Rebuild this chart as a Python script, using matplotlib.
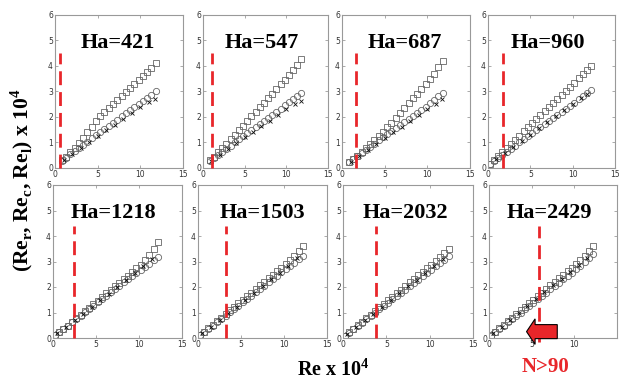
import matplotlib
matplotlib.use("Agg")
import matplotlib.pyplot as plt
import matplotlib.patches as mpatches

plt.rcParams["mathtext.fontset"] = "custom"
plt.rcParams["mathtext.rm"] = "Liberation Serif"
plt.rcParams["mathtext.bf"] = "Liberation Serif:bold"

# Hartmann numbers of the eight runs
ha_labels = ["Ha=421", "Ha=547", "Ha=687", "Ha=960",
             "Ha=1218", "Ha=1503", "Ha=2032", "Ha=2429"]

# Re where the red dashed line is drawn (x 10^4)
re_crit = [0.6, 1.1, 1.6, 1.8, 2.4, 3.3, 3.8, 5.9]
crit_top = [4.5, 4.5, 4.5, 4.5, 4.4, 4.4, 4.4, 4.4]

# Re axis (x 10^4)
re_top = [0.8, 1.3, 1.8, 2.3, 2.8, 3.3, 3.8, 4.3, 4.8, 5.3, 5.8, 6.3,
          6.8, 7.3, 7.8, 8.3, 8.8, 9.3, 9.8, 10.3, 10.8, 11.3, 11.8]
re_low = [0.2, 0.7, 1.2, 1.7, 2.2, 2.7, 3.2, 3.7, 4.2, 4.7, 5.2, 5.7, 6.2,
          6.7, 7.2, 7.7, 8.2, 8.7, 9.2, 9.7, 10.2, 10.7, 11.2, 11.7, 12.2]
re_x_top = [1.0, 2.0, 3.0, 4.0, 5.0, 6.0, 7.0, 8.0, 9.0, 10.0, 11.0, 11.7]
re_x_low = [0.5, 1.5, 2.5, 3.5, 4.5, 5.5, 6.5, 7.5, 8.5, 9.5, 10.5, 11.5]

# Re_r (squares)
re_r_421 = [0.30, 0.45, 0.62, 0.80, 0.98, 1.18, 1.40, 1.62, 1.85, 2.02, 2.18, 2.34,
            2.50, 2.66, 2.82, 2.98, 3.14, 3.30, 3.46, 3.62, 3.78, 3.94, 4.10]
re_r_547 = [0.30, 0.45, 0.62, 0.78, 0.95, 1.12, 1.30, 1.48, 1.66, 1.84, 2.02, 2.20,
            2.38, 2.56, 2.74, 2.92, 3.10, 3.28, 3.46, 3.64, 3.84, 4.05, 4.28]
re_r_687 = [0.25, 0.35, 0.48, 0.62, 0.78, 0.94, 1.10, 1.25, 1.42, 1.60, 1.78, 1.97,
            2.16, 2.35, 2.54, 2.73, 2.92, 3.10, 3.29, 3.48, 3.70, 3.95, 4.20]
re_r_960 = [0.15, 0.31, 0.47, 0.62, 0.79, 0.95, 1.11, 1.27, 1.44, 1.59, 1.75, 1.91,
            2.07, 2.24, 2.39, 2.55, 2.71, 2.87, 3.03, 3.19, 3.35, 3.52, 3.68, 3.84, 4.00]
re_r_1218 = [0.10, 0.22, 0.35, 0.49, 0.63, 0.77, 0.91, 1.05, 1.19, 1.33, 1.47, 1.61,
             1.75, 1.89, 2.03, 2.17, 2.31, 2.45, 2.59, 2.73, 2.88, 3.05, 3.25, 3.50, 3.78]
re_r_1503 = [0.10, 0.24, 0.38, 0.52, 0.66, 0.80, 0.94, 1.08, 1.22, 1.36, 1.50, 1.64,
             1.78, 1.92, 2.06, 2.20, 2.34, 2.48, 2.62, 2.76, 2.90, 3.06, 3.22, 3.40, 3.60]
re_r_2032 = [0.08, 0.22, 0.36, 0.50, 0.64, 0.78, 0.92, 1.06, 1.20, 1.34, 1.48, 1.62,
             1.76, 1.90, 2.04, 2.18, 2.32, 2.46, 2.60, 2.74, 2.88, 3.02, 3.16, 3.32, 3.50]
re_r_2429 = [0.10, 0.24, 0.38, 0.52, 0.66, 0.80, 0.94, 1.08, 1.22, 1.36, 1.50, 1.64,
             1.78, 1.92, 2.06, 2.20, 2.34, 2.48, 2.62, 2.76, 2.90, 3.05, 3.20, 3.40, 3.60]

# Re_c (circles)
re_c_421 = [0.28, 0.40, 0.53, 0.66, 0.78, 0.91, 1.03, 1.16, 1.28, 1.40, 1.53, 1.65,
            1.77, 1.89, 2.02, 2.14, 2.26, 2.39, 2.51, 2.63, 2.76, 2.88, 3.00]
re_c_547 = [0.28, 0.40, 0.52, 0.64, 0.76, 0.88, 1.00, 1.12, 1.24, 1.36, 1.48, 1.60,
            1.72, 1.84, 1.96, 2.08, 2.20, 2.33, 2.46, 2.58, 2.70, 2.83, 2.95]
re_c_687 = [0.22, 0.35, 0.48, 0.60, 0.72, 0.84, 0.96, 1.08, 1.20, 1.32, 1.44, 1.56,
            1.68, 1.80, 1.92, 2.04, 2.16, 2.28, 2.40, 2.53, 2.67, 2.81, 2.95]
re_c_960 = [0.15, 0.27, 0.39, 0.51, 0.63, 0.75, 0.88, 1.00, 1.12, 1.24, 1.36, 1.48,
            1.60, 1.72, 1.84, 1.96, 2.08, 2.20, 2.32, 2.44, 2.56, 2.69, 2.81, 2.93, 3.05]
re_c_1218 = [0.10, 0.23, 0.36, 0.49, 0.62, 0.75, 0.88, 1.01, 1.14, 1.27, 1.40, 1.53,
             1.66, 1.79, 1.92, 2.05, 2.18, 2.30, 2.42, 2.54, 2.66, 2.79, 2.92, 3.05, 3.18]
re_c_1503 = [0.10, 0.23, 0.36, 0.49, 0.62, 0.75, 0.88, 1.01, 1.14, 1.27, 1.40, 1.53,
             1.66, 1.79, 1.92, 2.05, 2.18, 2.31, 2.44, 2.57, 2.70, 2.83, 2.95, 3.08, 3.20]
re_c_2032 = [0.08, 0.21, 0.34, 0.47, 0.60, 0.73, 0.86, 0.99, 1.12, 1.25, 1.38, 1.51,
             1.64, 1.77, 1.90, 2.03, 2.16, 2.29, 2.42, 2.55, 2.68, 2.81, 2.94, 3.07, 3.20]
re_c_2429 = [0.08, 0.22, 0.35, 0.48, 0.61, 0.74, 0.87, 1.00, 1.13, 1.26, 1.39, 1.52,
             1.65, 1.78, 1.91, 2.04, 2.17, 2.30, 2.43, 2.56, 2.69, 2.83, 2.97, 3.13, 3.28]

# Re_l (crosses)
re_l_421 = [0.30, 0.55, 0.78, 1.02, 1.25, 1.48, 1.70, 1.93, 2.15, 2.38, 2.58, 2.72]
re_l_547 = [0.28, 0.52, 0.75, 0.98, 1.20, 1.42, 1.64, 1.86, 2.08, 2.30, 2.50, 2.62]
re_l_687 = [0.25, 0.48, 0.72, 0.95, 1.18, 1.40, 1.62, 1.85, 2.08, 2.30, 2.52, 2.70]
re_l_960 = [0.34, 0.58, 0.83, 1.07, 1.31, 1.55, 1.80, 2.04, 2.28, 2.52, 2.76, 2.90]
re_l_1218 = [0.18, 0.44, 0.70, 0.96, 1.22, 1.48, 1.74, 2.00, 2.26, 2.55, 2.82, 3.10]
re_l_1503 = [0.18, 0.44, 0.71, 0.97, 1.23, 1.50, 1.76, 2.03, 2.30, 2.56, 2.84, 3.12]
re_l_2032 = [0.17, 0.43, 0.70, 0.96, 1.22, 1.49, 1.76, 2.02, 2.29, 2.56, 2.83, 3.10]
re_l_2429 = [0.18, 0.45, 0.72, 0.99, 1.25, 1.52, 1.79, 2.06, 2.33, 2.60, 2.88, 3.15]

panels = [
    (re_top, re_r_421, re_c_421, re_x_top, re_l_421),
    (re_top, re_r_547, re_c_547, re_x_top, re_l_547),
    (re_top, re_r_687, re_c_687, re_x_top, re_l_687),
    (re_low, re_r_960, re_c_960, re_x_top, re_l_960),
    (re_low, re_r_1218, re_c_1218, re_x_low, re_l_1218),
    (re_low, re_r_1503, re_c_1503, re_x_low, re_l_1503),
    (re_low, re_r_2032, re_c_2032, re_x_low, re_l_2032),
    (re_low, re_r_2429, re_c_2429, re_x_low, re_l_2429),
]

W, H = 619, 385
# axes boxes in pixels: left, top, width, height
boxes = [(55, 15, 128, 153), (203, 15, 125, 153), (342, 15, 128, 153), (488, 15, 127, 153),
         (53, 185, 129, 153), (198, 185, 129, 153), (343, 185, 130, 153), (489, 185, 128, 153)]
title_x = [0.49, 0.47, 0.49, 0.47, 0.47, 0.50, 0.48, 0.47]

serif = "Liberation Serif"
red = "#e8262a"

fig = plt.figure(figsize=(W / 100, H / 100), dpi=100)

for k, (x_sq, r_vals, c_vals, x_cr, l_vals) in enumerate(panels):
    l, t, w, h = boxes[k]
    ax = fig.add_axes([l / W, 1 - (t + h) / H, w / W, h / H])
    ax.plot(x_sq, r_vals, ls="none", marker="s", ms=4.5, mfc="none",
            mec="#666666", mew=0.6)
    ax.plot(x_sq, c_vals, ls="none", marker="o", ms=4.5, mfc="none",
            mec="#666666", mew=0.6)
    ax.plot(x_cr, l_vals, ls="none", marker="x", ms=3.5, color="#111111", mew=0.6)
    ybot = -0.15 if k == 7 else 0.0
    ax.plot([re_crit[k], re_crit[k]], [ybot, crit_top[k]], color=red, lw=2.0,
            dashes=(5, 2.5), clip_on=False, zorder=5)
    ax.set_xlim(0, 15)
    ax.set_ylim(0, 6)
    ax.set_xticks([0, 5, 10, 15])
    ax.set_yticks(range(7))
    if k == 7:
        ax.set_xticklabels(["0", "5", "10", ""])
    ax.tick_params(direction="in", length=2, width=0.5, labelsize=5.5,
                   colors="#888888", labelcolor="#333333", pad=1.5,
                   top=True, right=True)
    for s in ax.spines.values():
        s.set_color("#999999")
        s.set_linewidth(0.8)
    ax.text(title_x[k], 0.82, ha_labels[k], transform=ax.transAxes,
            ha="center", va="center", fontsize=16, fontweight="bold",
            family=serif, zorder=6)
    if k == 7:
        arrow = mpatches.FancyArrow(8.0, 0.25, -3.6, 0, width=0.55,
                                    head_width=1.0, head_length=1.0,
                                    length_includes_head=True, fc=red,
                                    ec="black", lw=0.8, clip_on=False, zorder=7)
        ax.add_patch(arrow)

fig.text(22 / W, 1 - 180 / H,
         "(Re$_\\mathbf{r}$, Re$_\\mathbf{c}$, Re$_\\mathbf{l}$) x 10$^\\mathbf{4}$",
         rotation=90, ha="center", va="center", fontsize=15.5, fontweight="bold",
         family=serif)
fig.text(333 / W, 1 - 370 / H, "Re x 10$^\\mathbf{4}$", ha="center", va="center",
         fontsize=14.5, fontweight="bold", family=serif)
fig.text(546 / W, 1 - 367 / H, "N>90", ha="center", va="center", fontsize=15,
         fontweight="bold", family=serif, color=red)

fig.savefig("out.png", dpi=100)
